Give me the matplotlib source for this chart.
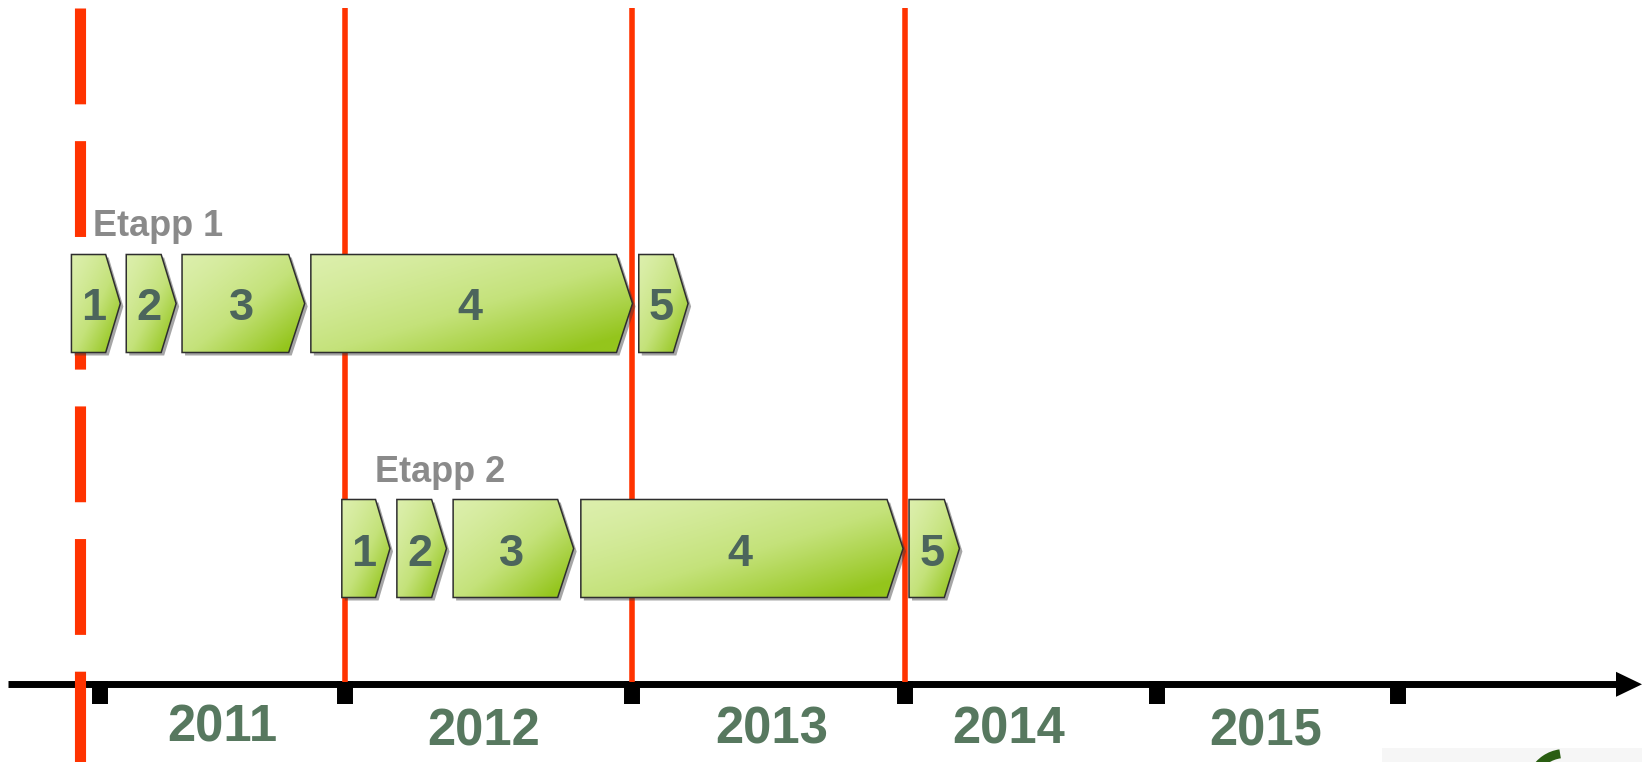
import numpy as np
import matplotlib
matplotlib.use("Agg")
from matplotlib import pyplot as plt
from matplotlib import transforms as mtransforms
from matplotlib.patches import Polygon, Rectangle, Arc
from matplotlib.colors import LinearSegmentedColormap

plt.rcParams['lines.scale_dashes'] = False

# time axis: year boundaries and year labels
year_edges = [2011, 2012, 2013, 2014, 2015, 2016]
year_labels = ['2011', '2012', '2013', '2014', '2015']
year_label_x = [2011.50, 2012.48, 2013.51, 2014.41, 2015.45]

# red decision lines and dashed start line
milestones = [2012.0, 2013.0, 2014.0]
start_marker = 2010.92

# stages and their phases (start / end as year fractions)
stage_names = ['Etapp 1', 'Etapp 2']
stage_label_x = [2010.973, 2012.104]
phase_labels = ['1', '2', '3', '4', '5']
stage1_start = [2010.885, 2011.108, 2011.335, 2011.859, 2013.023]
stage1_end = [2011.084, 2011.311, 2011.834, 2013.000, 2013.204]
stage2_start = [2011.985, 2012.179, 2012.375, 2012.820, 2014.016]
stage2_end = [2012.155, 2012.352, 2012.795, 2013.993, 2014.216]

# ---- layout ----
W, H = 1642, 762
edge_px = [99.7, 345.5, 632.5, 905.0, 1157.0, 1398.0]   # where the year ticks sit
row_top = [254.5, 499.5]
row_h = 98
axis_y = 684.3
year_base = [742, 745, 743, 743, 746]

ext_years = np.r_[year_edges[0] - 1, year_edges, year_edges[-1] + 1, year_edges[-1] + 2]
ext_px = np.r_[edge_px[0] - 245.8, edge_px, edge_px[-1] + 241, edge_px[-1] + 482]


def fwd(x):
    return np.interp(x, ext_years, ext_px)


def inv(p):
    return np.interp(p, ext_px, ext_years)


RED = '#ff3300'
NUM_COL = '#4c655c'
YEAR_COL = '#57785f'
ETAPP_COL = '#8a8a8a'
BOLD = dict(family=['Liberation Sans', 'DejaVu Sans'], fontweight='bold')

green = LinearSegmentedColormap.from_list('grn', ['#dcefac', '#c4e27a', '#94c51c'])
u, w = np.meshgrid(np.linspace(0, 1, 80), np.linspace(0, 1, 80))
grad = np.clip(0.55 * u + 0.55 * w, 0, 1) ** 1.3

fig = plt.figure(figsize=(W / 100, H / 100), dpi=100)
ax = fig.add_axes([0, 0, 1, 1])
ax.set_xscale('function', functions=(fwd, inv))
ax.set_autoscale_on(False)
ax.axis('off')

pix = mtransforms.Affine2D().scale(1 / W, -1 / H).translate(0, 1) + fig.transFigure

# time axis with arrow
ax.plot([8, 1618], [axis_y, axis_y], color='k', lw=5, solid_capstyle='butt',
        transform=pix, zorder=1)
ax.add_patch(Polygon([(1616, axis_y - 12.5), (W, axis_y), (1616, axis_y + 12.5)],
                     closed=True, fc='k', ec='none', transform=pix, zorder=1))
ax.vlines(year_edges, axis_y - 3, 704, colors='k', lw=11.5, zorder=1)

for lab, x, yb in zip(year_labels, year_label_x, year_base):
    ax.text(x, yb, lab, ha='center', va='baseline', fontsize=36.5, color=YEAR_COL, **BOLD)

# red lines
ax.vlines(milestones, 8, axis_y - 2, colors=RED, lw=4, zorder=1.5)
ax.vlines([start_marker], 8, H, colors=RED, lw=8, linestyles=[(0, (69, 26.5))], zorder=1.5)

shadow_off = mtransforms.ScaledTranslation(3 / 100, -3 / 100, fig.dpi_scale_trans)


def chevron(x0, x1, top, label):
    p0, p1 = fwd(x0), fwd(x1)
    tip = min(16, 0.3 * (p1 - p0))
    xc = inv(p1 - tip)
    verts = [(x0, top), (xc, top), (x1, top + row_h / 2), (xc, top + row_h), (x0, top + row_h)]
    sh = Polygon(verts, closed=True, fc='#3a3a3a', ec='none', alpha=0.45, zorder=2)
    sh.set_transform(ax.transData + shadow_off)
    ax.add_patch(sh)
    body = Polygon(verts, closed=True, fc='none', ec='#2e2e2e', lw=1.1, zorder=4)
    ax.add_patch(body)
    im = ax.imshow(grad, cmap=green, extent=(x0, x1, top + row_h, top), aspect='auto',
                   interpolation='bilinear', zorder=3)
    im.set_clip_path(body)
    ax.text(inv((p0 + p1) / 2 - 2), top + 66, label, ha='center', va='baseline',
            fontsize=32.5, color=NUM_COL, zorder=5, **BOLD)


stages = [(stage1_start, stage1_end), (stage2_start, stage2_end)]
for (starts, ends), top, name, lx in zip(stages, row_top, stage_names, stage_label_x):
    for s, e, lab in zip(starts, ends, phase_labels):
        chevron(s, e, top, lab)
    ax.text(lx, top - 18, name, ha='left', va='baseline', fontsize=26, color=ETAPP_COL, **BOLD)

# cropped logo corner
ax.add_patch(Rectangle((1382, 748), W - 1382, H - 748, fc='#f6f6f6', ec='none',
                       transform=pix, zorder=0.5))
ax.add_patch(Arc((1565, 788.5), 70, 70, theta1=210, theta2=262, color='#2a5e12',
                 lw=6.5, transform=pix, zorder=1))

ax.set_xlim(inv(0), inv(W))
ax.set_ylim(H, 0)

fig.savefig('out.png', dpi=100)
